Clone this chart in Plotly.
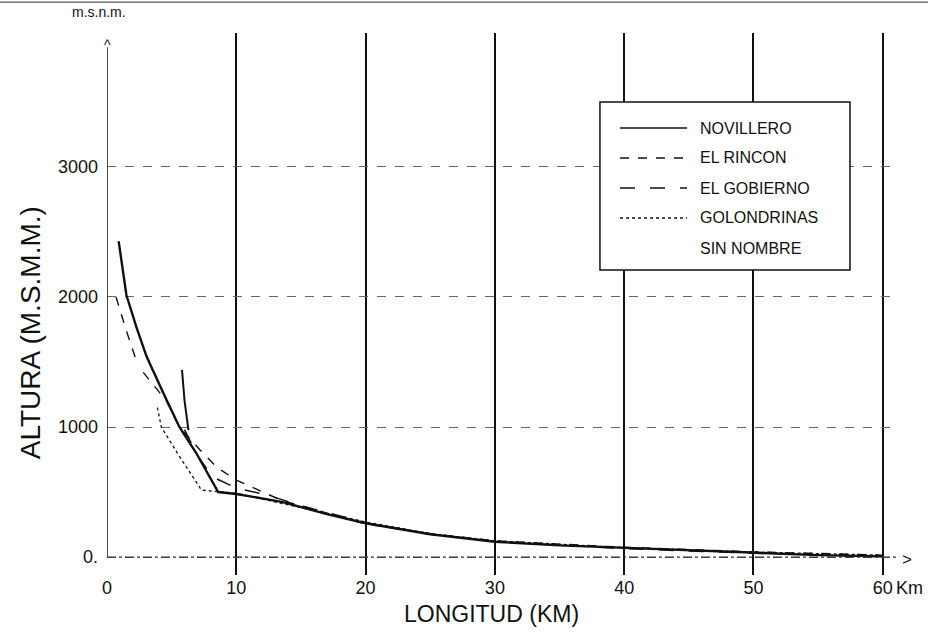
import plotly.graph_objects as go

# ---- data ----
nov_x = [0.9, 1.5, 2.3, 3.07, 4.5, 5.6, 6.9, 7.6, 8.6, 10, 13.6, 17, 20, 25, 30, 35, 40, 45, 50, 55, 60]
nov_y = [2430, 2015, 1760, 1540, 1230, 1000, 800, 680, 500, 485, 423, 330, 260, 175, 118, 90, 70, 50, 30, 15, 5]

rin_x = [0.7, 1.5, 2.3, None, 2.8, 3.7, 4.6, 5.6, 7.2, 8.5, 10, 13.4, 20, 25, 30, 40, 50, 60]
rin_y = [2000, 1740, 1500, None, 1420, 1310, 1200, 1000, 823, 690, 592, 440, 254, 180, 125, 75, 40, 15]

gob_x = [6.0, 7.0, 8.2, 10, 12.4, 15, 20, 25, 30, 40, 50, 60]
gob_y = [980, 780, 615, 530, 477, 395, 265, 175, 120, 65, 28, 3]

gol_x = [3.9, 4.2, 5.5, 7.3, 10, 15, 20, 25, 30, 40, 50, 60]
gol_y = [1150, 1000, 790, 515, 490, 380, 270, 180, 125, 72, 38, 15]

sin_x = [5.8, 6.0, 6.3]
sin_y = [1440, 1200, 977]

x_ticks = [0, 10, 20, 30, 40, 50, 60]
x_tick_text = ["0", "10", "20", "30", "40", "50", "60"]
y_ticks = [0, 1000, 2000, 3000]
y_tick_text = ["0.", "1000", "2000", "3000"]

legend_names = ["NOVILLERO", "EL RINCON", "EL GOBIERNO", "GOLONDRINAS", "SIN NOMBRE"]
legend_dashes = ["solid", "dash", "longdash", "dot", None]

FONT = "Liberation Sans, Arial, sans-serif"
INK = "#111111"

fig = go.Figure()

def add(name, xs, ys, dash, width):
    fig.add_trace(go.Scatter(x=xs, y=ys, mode="lines", name=name,
                             line=dict(color=INK, dash=dash, width=width),
                             showlegend=False, hoverinfo="skip"))

add("NOVILLERO", nov_x, nov_y, "solid", 2.4)
add("EL RINCON", rin_x, rin_y, "dash", 1.4)
add("EL GOBIERNO", gob_x, gob_y, "longdash", 1.4)
add("GOLONDRINAS", gol_x, gol_y, "dot", 1.3)
add("SIN NOMBRE", sin_x, sin_y, "solid", 2.0)

fig.update_layout(
    width=928, height=638,
    margin=dict(l=107, r=31, t=33, b=63),
    paper_bgcolor="white", plot_bgcolor="white",
    font=dict(family=FONT, color=INK, size=18),
    showlegend=False,
    xaxis=dict(range=[0, 61.1], tickvals=x_ticks, ticktext=x_tick_text,
               showgrid=True, gridcolor=INK, gridwidth=2,
               zeroline=False, showline=False, ticks="",
               tickfont=dict(size=18, family=FONT, color=INK)),
    yaxis=dict(range=[-138, 4030], tickvals=y_ticks, ticktext=y_tick_text,
               showgrid=True, gridcolor="#666666", gridwidth=1, griddash="dash",
               zeroline=False, showline=False, ticks="",
               ticklabelstandoff=8,
               tickfont=dict(size=18, family=FONT, color=INK)),
)

# axis titles
fig.add_annotation(x=-0.0975, y=0.448, xref="paper", yref="paper", text="ALTURA (M.S.M.M.)",
                   textangle=-90, showarrow=False, xanchor="center", yanchor="middle",
                   font=dict(size=28, family=FONT, color=INK))
fig.add_annotation(x=0.487, y=-0.072, xref="paper", yref="paper", text="LONGITUD (KM)",
                   showarrow=False, xanchor="center", yanchor="middle",
                   font=dict(size=23, family=FONT, color=INK))

# axis lines (y axis at x=0 with arrow, x axis at y=0)
fig.add_shape(type="line", xref="x", yref="y", x0=0, x1=0, y0=0, y1=3920,
              line=dict(color=INK, width=1.5))
fig.add_shape(type="line", xref="x", yref="y", x0=0, x1=61.1, y0=0, y1=0,
              line=dict(color="#333333", width=1.2, dash="dashdot"))
# scan border line at top
fig.add_shape(type="line", xref="paper", yref="paper", x0=-0.14, x1=1.04, y0=1.057, y1=1.057,
              line=dict(color="#333333", width=1))

# legend box drawn by hand (paper coordinates of the plot area)
box_x0, box_x1, box_y0, box_y1 = 0.624, 0.9405, 0.5627, 0.8727
fig.add_shape(type="rect", xref="paper", yref="paper", x0=box_x0, x1=box_x1, y0=box_y0, y1=box_y1,
              line=dict(color=INK, width=1.5), fillcolor="white", layer="above")
row_y = [0.8247, 0.7694, 0.7140, 0.6587, 0.6033]
for name, dash, ry in zip(legend_names, legend_dashes, row_y):
    if dash is not None:
        fig.add_shape(type="line", xref="paper", yref="paper", x0=0.6494, x1=0.7342, y0=ry, y1=ry,
                      line=dict(color=INK, width=1.6 if dash == "solid" else 1.3, dash=dash),
                      layer="above")
    fig.add_annotation(x=0.7481, y=ry, xref="paper", yref="paper", text=name, showarrow=False,
                       xanchor="left", yanchor="middle",
                       font=dict(size=16, family=FONT, color=INK))

fig.add_annotation(x=0, y=3930, xref="x", yref="y", text="^", showarrow=False,
                   font=dict(size=14, family=FONT, color=INK), yanchor="bottom", yshift=-9)
fig.add_annotation(x=61.1, y=0, xref="x", yref="y", text=">", showarrow=False,
                   font=dict(size=17, family=FONT, color=INK), xanchor="left", xshift=3, yshift=-2)
fig.add_annotation(x=0, y=1.0, xref="x", yref="paper", text="m.s.n.m.", showarrow=False,
                   font=dict(size=14, family=FONT, color=INK), xanchor="center", yanchor="bottom",
                   xshift=-8, yshift=11)
fig.add_annotation(x=60, y=0, xref="x", yref="paper", text="Km", showarrow=False,
                   font=dict(size=18, family=FONT, color=INK), xanchor="left", yanchor="top",
                   xshift=11, yshift=-1)

fig.write_html("out.html")
